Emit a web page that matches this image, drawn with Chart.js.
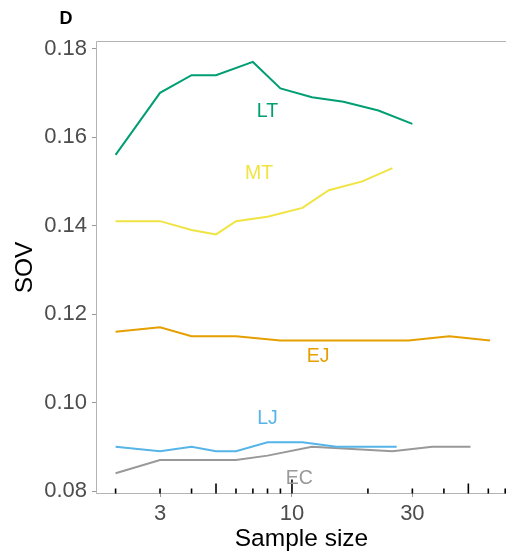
<!DOCTYPE html>
<html>
<head>
<meta charset="utf-8">
<script src="https://cdn.jsdelivr.net/npm/chart.js@4.4.1/dist/chart.umd.min.js"></script>
<style>
  html, body { margin: 0; padding: 0; background: #fff; }
  canvas { display: block; }
</style>
</head>
<body>
<canvas id="sov" width="506" height="558"></canvas>
<script>
// Sample sizes and SOV per group
const ltSize = [2, 3, 4, 5, 7, 9, 12, 16, 22, 30];
const ltSov  = [0.156, 0.170, 0.174, 0.174, 0.177, 0.171, 0.169, 0.168, 0.166, 0.163];

const mtSize = [2, 3, 4, 5, 6, 8, 11, 14, 19, 25];
const mtSov  = [0.141, 0.141, 0.139, 0.138, 0.141, 0.142, 0.144, 0.148, 0.150, 0.153];

const ejSize = [2, 3, 4, 6, 9, 29, 42, 61];
const ejSov  = [0.116, 0.117, 0.115, 0.115, 0.114, 0.114, 0.115, 0.114];

const ljSize = [2, 3, 4, 5, 6, 8, 11, 15, 26];
const ljSov  = [0.090, 0.089, 0.090, 0.089, 0.089, 0.091, 0.091, 0.090, 0.090];

const ecSize = [2, 3, 6, 8, 12, 25, 36, 51];
const ecSov  = [0.084, 0.087, 0.087, 0.088, 0.090, 0.089, 0.090, 0.090];

const groupNames  = ['LT', 'MT', 'EJ', 'LJ', 'EC'];
const groupColors = ['#009E73', '#F0E442', '#E69F00', '#56B4E9', '#999999'];
// where each group's name sits (data coords)
const labelSize = [8.0, 7.4, 12.7, 8.0, 10.7];
const labelSov  = [0.1657, 0.1518, 0.1104, 0.0964, 0.0827];

const xTicks = [3, 10, 30];
const yTicks = [0.08, 0.10, 0.12, 0.14, 0.16, 0.18];
const logTicks = [2, 3, 4, 5, 6, 7, 8, 9, 10, 20, 30, 40, 50, 60, 70];

const FONT = '"Liberation Sans", Arial, Helvetica, sans-serif';

const pairs = (xs, ys) => xs.map((x, i) => ({ x, y: ys[i] }));
const seriesData = [
    pairs(ltSize, ltSov),
    pairs(mtSize, mtSov),
    pairs(ejSize, ejSov),
    pairs(ljSize, ljSov),
    pairs(ecSize, ecSov)
];

// panel box, log ticks along the bottom, group names, panel tag
const panelDecor = {
    id: 'panelDecor',
    afterDatasetsDraw(chart) {
        const { ctx, chartArea: a, scales: { x, y } } = chart;
        ctx.save();

        // border (left, top, bottom)
        ctx.strokeStyle = '#b3b3b3';
        ctx.lineWidth = 1;
        ctx.beginPath();
        ctx.moveTo(a.right + 1, a.top - 0.5);
        ctx.lineTo(a.left - 0.5, a.top - 0.5);
        ctx.lineTo(a.left - 0.5, a.bottom + 0.5);
        ctx.lineTo(a.right + 1, a.bottom + 0.5);
        ctx.stroke();

        // annotation log ticks
        ctx.strokeStyle = '#000';
        ctx.lineWidth = 1.6;
        logTicks.forEach(v => {
            const m = v / Math.pow(10, Math.floor(Math.log10(v) + 1e-9));
            const len = Math.abs(m - 1) < 1e-9 ? 14 : (Math.abs(m - 5) < 1e-9 ? 10 : 5);
            const px = x.getPixelForValue(v);
            ctx.beginPath();
            ctx.moveTo(px, a.bottom + 0.5);
            ctx.lineTo(px, a.bottom + 0.5 - len);
            ctx.stroke();
        });

        // group names
        ctx.font = `19.5px ${FONT}`;
        ctx.textAlign = 'center';
        ctx.textBaseline = 'middle';
        groupNames.forEach((name, i) => {
            ctx.fillStyle = groupColors[i];
            ctx.fillText(name, x.getPixelForValue(labelSize[i]), y.getPixelForValue(labelSov[i]));
        });

        // panel tag
        ctx.fillStyle = '#000';
        ctx.font = `bold 18px ${FONT}`;
        ctx.fillText('D', 66, 19);
        ctx.restore();
    }
};

new Chart(document.getElementById('sov'), {
    type: 'scatter',
    data: {
        datasets: seriesData.map((d, i) => ({
            label: groupNames[i],
            data: d,
            showLine: true,
            borderColor: groupColors[i],
            borderWidth: 2,
            pointRadius: 0,
            fill: false,
            tension: 0
        }))
    },
    options: {
        responsive: false,
        animation: false,
        devicePixelRatio: 1,
        layout: { padding: { top: 42, right: 0, left: 0, bottom: 0 } },
        plugins: {
            legend: { display: false },
            tooltip: { enabled: false }
        },
        scales: {
            x: {
                type: 'logarithmic',
                min: 1.688,
                max: 70.5,
                afterBuildTicks: s => { s.ticks = xTicks.map(v => ({ value: v })); },
                afterFit: s => { s.height = 65; },
                ticks: {
                    callback: v => String(v),
                    autoSkip: false,
                    maxRotation: 0,
                    padding: 4,
                    color: '#4d4d4d',
                    font: { family: FONT, size: 22 }
                },
                grid: { drawOnChartArea: false, tickLength: 4, color: '#999', lineWidth: 1 },
                border: { display: false },
                title: {
                    display: true,
                    text: 'Sample size',
                    color: '#000',
                    font: { family: FONT, size: 24.5 },
                    padding: { top: 0, bottom: 4.3 }
                }
            },
            y: {
                min: 0.07955,
                max: 0.1815,
                afterBuildTicks: s => { s.ticks = yTicks.map(v => ({ value: v })); },
                afterFit: s => { s.width = 97; },
                ticks: {
                    callback: v => v.toFixed(2),
                    padding: 5,
                    color: '#4d4d4d',
                    font: { family: FONT, size: 22 }
                },
                grid: { drawOnChartArea: false, tickLength: 5, color: '#999', lineWidth: 1 },
                border: { display: false },
                title: {
                    display: true,
                    text: 'SOV',
                    color: '#000',
                    font: { family: FONT, size: 24.5 },
                    padding: { top: 11, bottom: 0 }
                }
            }
        }
    },
    plugins: [panelDecor]
});
</script>
</body>
</html>
